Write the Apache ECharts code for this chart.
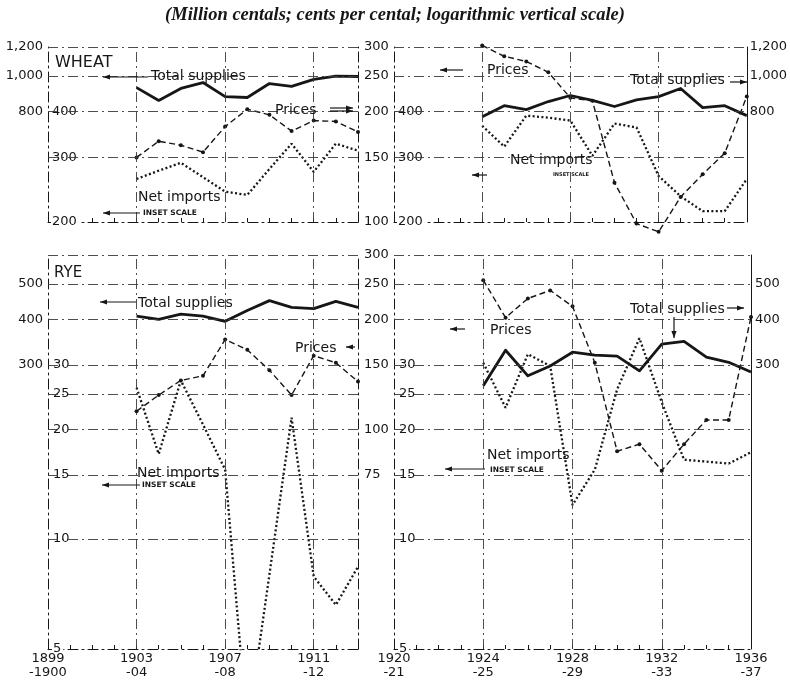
<!DOCTYPE html>
<html><head><meta charset="utf-8">
<script src="https://cdn.jsdelivr.net/npm/echarts@6/dist/echarts.min.js"></script>
<style>html,body{margin:0;padding:0;background:#fff}#c{width:790px;height:680px}</style>
</head><body><div id="c"></div>
<script>
// ---------- data ----------
const yearsEarly = [1903,1904,1905,1906,1907,1908,1909,1910,1911,1912,1913];
const yearsLate  = [1924,1925,1926,1927,1928,1929,1930,1931,1932,1933,1934,1935,1936];

const wheatSuppliesEarly = [930, 858, 925, 960, 879, 874, 954, 937, 979, 1000, 997];
const wheatPricesEarly   = [150, 166, 162, 155, 182, 203, 196, 177, 189, 188, 176];
const wheatImportsEarly  = [262, 276, 290, 265, 242, 237, 279, 327, 274, 327, 313];

const wheatSuppliesLate = [775, 830, 810, 852, 885, 858, 826, 861, 879, 925, 820, 830, 780];
const wheatPricesLate   = [303, 283, 274, 256, 218, 214, 128, 99, 94, 117, 135, 154, 220];
const wheatImportsLate  = [366, 321, 390, 385, 378, 303, 371, 362, 267, 235, 214, 214, 262];

const ryeSuppliesEarly = [408, 400, 413, 408, 395, 423, 450, 431, 428, 448, 431];
const ryePricesEarly   = [112, 124, 136, 140, 176, 165, 145, 124, 159, 152, 135];
const ryeImportsEarly  = [26.0, 17.1, 27.2, 20.6, 15.5, 3.0, 8.0, 21.5, 7.9, 6.6, 8.4];

const ryeSuppliesLate = [263, 329, 280, 298, 325, 319, 317, 289, 342, 348, 315, 305, 287];
const ryePricesLate   = [256, 202, 228, 240, 217, 152, 87, 91, 77, 91, 106, 106, 203];
const ryeImportsLate  = [30.4, 22.9, 32.1, 29.8, 12.4, 15.5, 25.7, 35.5, 23.7, 16.5, 16.3, 16.1, 17.3];

// tick labels
const wheatPriceTicks  = [100, 150, 200, 250, 300];
const wheatPriceLabels = ['100', '150', '200', '250', '300'];
const wheatSupplyTicks  = [800, 1000, 1200];
const wheatSupplyLabels = ['800', '1,000', '1,200'];
const wheatImportTicks  = [200, 300, 400];
const wheatImportLabels = ['200', '300', '400'];

const ryePriceTicks  = [75, 100, 150, 200, 250, 300];
const ryePriceLabels = ['75', '100', '150', '200', '250', '300'];
const ryeSupplyTicks  = [300, 400, 500];
const ryeSupplyLabels = ['300', '400', '500'];
const ryeImportTicks  = [5, 10, 15, 20, 25, 30];
const ryeImportLabels = ['5', '10', '15', '20', '25', '30'];

const yearTicksEarly = [1899,1900,1901,1902,1903,1904,1905,1906,1907,1908,1909,1910,1911,1912,1913];
const yearTicksLate  = [1920,1921,1922,1923,1924,1925,1926,1927,1928,1929,1930,1931,1932,1933,1934,1935,1936];
const yearLabelValuesEarly = [1899, 1903, 1907, 1911];
const yearLabelsEarly = ['1899\n-1900', '1903\n-04', '1907\n-08', '1911\n-12'];
const yearLabelValuesLate = [1920, 1924, 1928, 1932, 1936];
const yearLabelsLate = ['1920\n-21', '1924\n-25', '1928\n-29', '1932\n-33', '1936\n-37'];

// grid lines (price-scale values and years)
const wheatGridPrices = [150, 200, 250, 300];
const ryeGridPrices = [50, 75, 100, 125, 150, 200, 250, 300];
const gridYearsEarly = [1903, 1907, 1911];
const gridYearsLate = [1924, 1928, 1932];

// ---------- styling helpers ----------
const INK = '#161616';
const F = '"DejaVu Sans", "Liberation Sans", sans-serif';
const DASHDOT = [10, 4, 2, 4];

function fmtFrom(ticks, labels) {
  return function (v) {
    for (let i = 0; i < ticks.length; i++) {
      if (Math.abs(ticks[i] - v) <= ticks[i] * 1e-4) return labels[i];
    }
    return '';
  };
}

function yAx(grid, lo, hi, pos, o) {
  return {
    type: 'log', logBase: 10, gridIndex: grid, position: pos,
    min: lo * 0.99999, max: hi * 1.00001,
    axisLine: { show: !!o.line, onZero: false, lineStyle: { color: INK, width: 1, type: o.line || 'solid' } },
    axisTick: { show: false }, splitLine: { show: false },
    minorTick: { show: false }, minorSplitLine: { show: false },
    axisLabel: o.ticks ? {
      show: true, customValues: o.ticks, formatter: fmtFrom(o.ticks, o.labels),
      inside: !!o.inside, margin: o.margin, color: INK, fontFamily: F, fontSize: 13,
      backgroundColor: o.inside ? '#ffffff' : 'transparent', padding: o.inside ? [0, 2, 0, 1] : 0
    } : { show: false }
  };
}

function xAx(grid, lo, hi, tickYears, labelVals, labels) {
  return {
    type: 'value', gridIndex: grid, min: lo, max: hi, position: 'bottom',
    axisLine: { show: true, onZero: false, lineStyle: { color: INK, width: 1, type: DASHDOT } },
    axisTick: { show: true, inside: true, length: 4, customValues: tickYears, lineStyle: { color: INK } },
    axisLabel: labelVals ? {
      show: true, customValues: labelVals, formatter: fmtFrom(labelVals, labels),
      color: INK, fontFamily: F, fontSize: 13, lineHeight: 14, margin: 3
    } : { show: false },
    splitLine: { show: false }
  };
}

function pairs(years, vals) { return years.map((y, i) => [y, vals[i]]); }

function supplies(xi, yi, years, vals) {
  return { type: 'line', xAxisIndex: xi, yAxisIndex: yi, data: pairs(years, vals),
    symbol: 'none', smooth: false, z: 4,
    lineStyle: { color: INK, width: 2.8, join: 'round' } };
}
function prices(xi, yi, years, vals, gridPrices, gridYears) {
  return { type: 'line', xAxisIndex: xi, yAxisIndex: yi, data: pairs(years, vals),
    symbol: 'circle', symbolSize: 4, clip: false, z: 3,
    itemStyle: { color: INK },
    lineStyle: { color: INK, width: 1.4, type: [6, 3.5] },
    markLine: {
      silent: true, symbol: ['none', 'none'], label: { show: false }, animation: false,
      lineStyle: { color: '#3a3a3a', width: 0.9, type: DASHDOT },
      data: gridPrices.map(v => ({ yAxis: v })).concat(gridYears.map(v => ({ xAxis: v })))
    } };
}
function imports(xi, yi, years, vals) {
  return { type: 'line', xAxisIndex: xi, yAxisIndex: yi, data: pairs(years, vals),
    symbol: 'none', clip: true, z: 3,
    lineStyle: { color: INK, width: 2.3, type: [2, 2.4] } };
}

// ---------- annotation helpers ----------
function txt(x, y, s, size, o) {
  o = o || {};
  return { type: 'text', x: x, y: y, silent: true, z: 50,
    style: { text: s, fill: INK, font: (o.bold ? 'bold ' : '') + size + 'px ' + F,
      align: o.align || 'left', verticalAlign: 'middle' } };
}
function arrowH(xHead, xTail, y) {
  const dir = xTail > xHead ? 1 : -1;
  return [
    { type: 'line', silent: true, z: 50, shape: { x1: xHead, y1: y, x2: xTail, y2: y }, style: { stroke: INK, lineWidth: 1.2 } },
    { type: 'polygon', silent: true, z: 50, shape: { points: [[xHead, y], [xHead + dir * 7, y - 2.6], [xHead + dir * 7, y + 2.6]] }, style: { fill: INK } }
  ];
}
function arrowV(x, yTail, yHead) {
  return [
    { type: 'line', silent: true, z: 50, shape: { x1: x, y1: yTail, x2: x, y2: yHead }, style: { stroke: INK, lineWidth: 1.2 } },
    { type: 'polygon', silent: true, z: 50, shape: { points: [[x, yHead], [x - 2.6, yHead - 7], [x + 2.6, yHead - 7]] }, style: { fill: INK } }
  ];
}

const graphics = [
  { type: 'text', x: 395, y: 15, silent: true, z: 50,
    style: { text: '(Million centals; cents per cental; logarithmic vertical scale)', fill: INK,
      font: 'italic bold 18.5px "Liberation Serif", "DejaVu Serif", serif', align: 'center', verticalAlign: 'middle' } },
  // top-left
  txt(55, 63, 'WHEAT', 16),
  txt(151, 76, 'Total supplies', 14),
  txt(275, 110, 'Prices', 14),
  txt(138, 197, 'Net imports', 14),
  txt(143, 213, 'INSET SCALE', 7.5, { bold: true }),
  // top-right
  txt(487, 70, 'Prices', 14),
  txt(630, 80, 'Total supplies', 14),
  txt(510, 160, 'Net imports', 14),
  txt(553, 175, 'INSET SCALE', 5, { bold: true }),
  // bottom-left
  txt(54, 273, 'RYE', 15),
  txt(138, 303, 'Total supplies', 14),
  txt(295, 348, 'Prices', 14),
  txt(137, 473, 'Net imports', 14),
  txt(142, 485, 'INSET SCALE', 7.5, { bold: true }),
  // bottom-right
  txt(490, 330, 'Prices', 14),
  txt(630, 309, 'Total supplies', 14),
  txt(487, 455, 'Net imports', 14),
  txt(490, 470, 'INSET SCALE', 7.5, { bold: true })
].concat(
  arrowH(103, 148, 77),
  arrowH(353, 330, 108), arrowH(353, 330, 111),
  arrowH(103, 140, 213),
  arrowH(440, 463, 70),
  arrowH(747, 730, 82),
  arrowH(472, 487, 175),
  arrowH(100, 136, 302),
  arrowH(346, 355, 347),
  arrowH(102, 140, 485),
  arrowH(450, 465, 329),
  arrowH(744, 727, 308),
  arrowV(674, 317, 338),
  arrowH(445, 485, 469)
);

const option = {
  animation: false,
  backgroundColor: '#ffffff',
  grid: [
    { left: 48, top: 47, width: 310, height: 175 },
    { left: 394, top: 47, width: 357, height: 175 },
    { left: 48, top: 255, width: 310, height: 396 },
    { left: 394, top: 255, width: 357, height: 396 }
  ],
  xAxis: [
    xAx(0, 1899, 1913, yearTicksEarly, null, null),
    xAx(1, 1920, 1936, yearTicksLate, null, null),
    xAx(2, 1899, 1913, yearTicksEarly, yearLabelValuesEarly, yearLabelsEarly),
    xAx(3, 1920, 1936, yearTicksLate, yearLabelValuesLate, yearLabelsLate)
  ],
  yAxis: [
    // top-left
    yAx(0, 100, 300, 'right', { line: DASHDOT, ticks: wheatPriceTicks, labels: wheatPriceLabels, margin: 6 }),
    yAx(0, 400, 1200, 'left', { line: DASHDOT, ticks: wheatSupplyTicks, labels: wheatSupplyLabels, margin: 5 }),
    yAx(0, 200, 600, 'left', { ticks: wheatImportTicks, labels: wheatImportLabels, inside: true, margin: 3 }),
    // top-right
    yAx(1, 100, 300, 'left', { line: DASHDOT }),
    yAx(1, 400, 1200, 'right', { line: 'solid', ticks: wheatSupplyTicks, labels: wheatSupplyLabels, margin: 3 }),
    yAx(1, 200, 600, 'left', { ticks: wheatImportTicks, labels: wheatImportLabels, inside: true, margin: 3 }),
    // bottom-left
    yAx(2, 25, 300, 'right', { line: DASHDOT, ticks: ryePriceTicks, labels: ryePriceLabels, margin: 6 }),
    yAx(2, 50, 600, 'left', { line: DASHDOT, ticks: ryeSupplyTicks, labels: ryeSupplyLabels, margin: 5 }),
    yAx(2, 5, 60, 'left', { ticks: ryeImportTicks, labels: ryeImportLabels, inside: true, margin: 4 }),
    // bottom-right
    yAx(3, 25, 300, 'left', { line: DASHDOT }),
    yAx(3, 50, 600, 'right', { line: 'solid', ticks: ryeSupplyTicks, labels: ryeSupplyLabels, margin: 4 }),
    yAx(3, 5, 60, 'left', { ticks: ryeImportTicks, labels: ryeImportLabels, inside: true, margin: 4 })
  ],
  series: [
    supplies(0, 1, yearsEarly, wheatSuppliesEarly),
    prices(0, 0, yearsEarly, wheatPricesEarly, wheatGridPrices, gridYearsEarly),
    imports(0, 2, yearsEarly, wheatImportsEarly),

    supplies(1, 4, yearsLate, wheatSuppliesLate),
    prices(1, 3, yearsLate, wheatPricesLate, wheatGridPrices, gridYearsLate),
    imports(1, 5, yearsLate, wheatImportsLate),

    supplies(2, 7, yearsEarly, ryeSuppliesEarly),
    prices(2, 6, yearsEarly, ryePricesEarly, ryeGridPrices, gridYearsEarly),
    imports(2, 8, yearsEarly, ryeImportsEarly),

    supplies(3, 10, yearsLate, ryeSuppliesLate),
    prices(3, 9, yearsLate, ryePricesLate, ryeGridPrices, gridYearsLate),
    imports(3, 11, yearsLate, ryeImportsLate)
  ],
  graphic: graphics
};

const chart = echarts.init(document.getElementById('c'), null, { renderer: 'canvas' });
chart.setOption(option);
</script>
</body></html>
